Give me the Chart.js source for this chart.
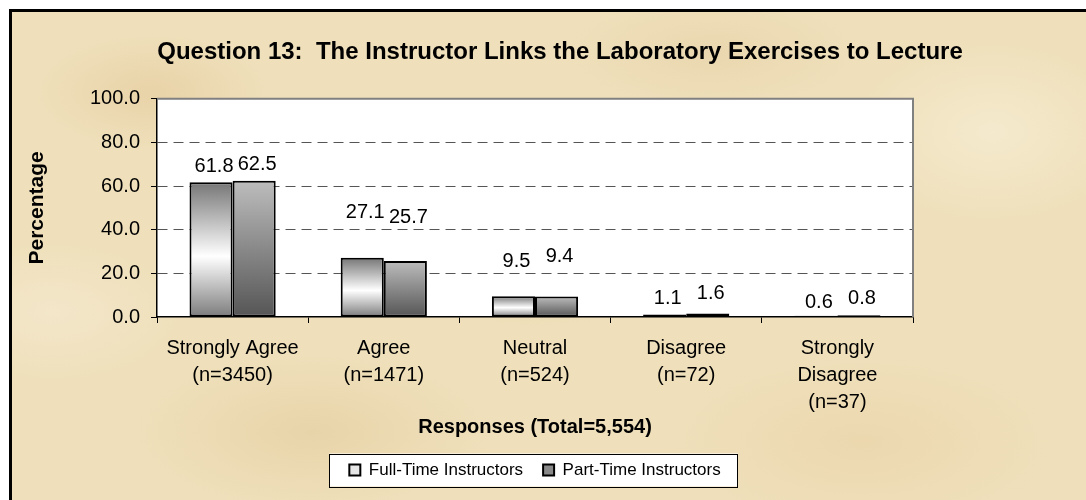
<!DOCTYPE html>
<html>
<head>
<meta charset="utf-8">
<script src="https://cdn.jsdelivr.net/npm/chart.js@4.4.1/dist/chart.umd.min.js"></script>
<style>
  html, body { margin: 0; padding: 0; background: #fff; overflow: hidden; }
  #frame {
    position: absolute; left: 9px; top: 9px; width: 1110px; height: 520px;
    border: 3px solid #000;
    background-color: #efe0bb;
    background-image:
      radial-gradient(ellipse 120px 60px at 140px 80px, rgba(230,205,160,0.7), rgba(230,205,160,0) 100%),
      radial-gradient(ellipse 160px 70px at 520px 250px, rgba(232,208,165,0.6), rgba(232,208,165,0) 100%),
      radial-gradient(ellipse 140px 90px at 980px 120px, rgba(246,236,210,0.8), rgba(246,236,210,0) 100%),
      radial-gradient(ellipse 180px 80px at 300px 420px, rgba(228,204,158,0.6), rgba(228,204,158,0) 100%),
      radial-gradient(ellipse 200px 90px at 850px 430px, rgba(235,212,170,0.7), rgba(235,212,170,0) 100%),
      radial-gradient(ellipse 130px 70px at 40px 300px, rgba(244,232,205,0.8), rgba(244,232,205,0) 100%),
      radial-gradient(ellipse 150px 60px at 700px 40px, rgba(231,209,168,0.6), rgba(231,209,168,0) 100%);
  }
  #wrap { position: absolute; left: 0; top: 0; width: 1086px; height: 500px; }
</style>
</head>
<body>
<div id="frame"></div>
<div id="wrap"><canvas id="chart"></canvas></div>
<script>
// 回答カテゴリ
const categories = [
  ['Strongly Agree', '(n=3450)'],
  ['Agree', '(n=1471)'],
  ['Neutral', '(n=524)'],
  ['Disagree', '(n=72)'],
  ['Strongly', 'Disagree', '(n=37)']
];
const fullTime = [61.8, 27.1, 9.5, 1.1, 0.6];
const partTime = [62.5, 25.7, 9.4, 1.6, 0.8];
const yTicks = [0, 20, 40, 60, 80, 100];

const FONT = "'Liberation Sans', Arial, sans-serif";
const legendFills = ['#e6e6e6', '#8a8a8a'];

// 棒ごとの縦グラデーション
function barFill(stops, flat) {
  return function (c) {
    if (c.type !== 'data') return flat;
    const y = c.chart.scales.y;
    if (!y) return flat;
    const top = y.getPixelForValue(c.raw);
    const base = y.getPixelForValue(0);
    if (!isFinite(top) || !isFinite(base) || base - top < 1) return flat;
    const g = c.chart.ctx.createLinearGradient(0, top, 0, base);
    stops.forEach(s => g.addColorStop(s[0], s[1]));
    return g;
  };
}

// プロット領域の背景と凡例の枠
const backdrop = {
  id: 'backdrop',
  beforeDraw(chart) {
    const {ctx, chartArea: a} = chart;
    ctx.save();
    ctx.fillStyle = '#fff';
    ctx.fillRect(a.left, a.top, a.right - a.left, a.bottom - a.top);
    const boxes = chart.legend && chart.legend.legendHitBoxes;
    if (boxes && boxes.length) {
      const first = boxes[0], last = boxes[boxes.length - 1];
      const l = first.left - 20, r = last.left + last.width + 17;
      const t = first.top - 8, b = first.top + first.height + 8;
      ctx.fillStyle = '#fff';
      ctx.fillRect(l, t, r - l, b - t);
      ctx.strokeStyle = '#000';
      ctx.lineWidth = 1;
      ctx.strokeRect(Math.round(l) + 0.5, Math.round(t) + 0.5, Math.round(r - l), Math.round(b - t));
    }
    ctx.restore();
  },
  beforeDatasetsDraw(chart) {
    const {ctx, chartArea: a} = chart;
    ctx.save();
    ctx.strokeStyle = '#808080';
    ctx.lineWidth = 2;
    ctx.beginPath();
    ctx.moveTo(a.left, a.top);
    ctx.lineTo(a.right, a.top);
    ctx.lineTo(a.right, a.bottom);
    ctx.stroke();
    ctx.restore();
  }
};

// 棒の上の数値ラベル
const valueLabels = {
  id: 'valueLabels',
  afterDatasetsDraw(chart, args, opts) {
    const ctx = chart.ctx;
    ctx.save();
    ctx.font = '20px ' + FONT;
    ctx.fillStyle = '#000';
    ctx.textAlign = 'center';
    ctx.textBaseline = 'middle';
    chart.data.datasets.forEach((ds, di) => {
      const meta = chart.getDatasetMeta(di);
      meta.data.forEach((bar, i) => {
        const lift = opts.lift[di][i];
        ctx.fillText(ds.data[i].toFixed(1), bar.x + 3, bar.y - lift);
      });
    });
    ctx.restore();
  }
};

const ctx = document.getElementById('chart').getContext('2d');
new Chart(ctx, {
  type: 'bar',
  data: {
    labels: categories,
    datasets: [
      {
        label: 'Full-Time Instructors',
        data: fullTime,
        backgroundColor: barFill([[0, '#767676'], [0.55, '#ffffff'], [1, '#7c7c7c']], '#e0e0e0'),
        borderColor: '#000',
        borderWidth: 2,
        borderSkipped: false
      },
      {
        label: 'Part-Time Instructors',
        data: partTime,
        backgroundColor: barFill([[0, '#bdbdbd'], [1, '#555555']], '#8c8c8c'),
        borderColor: '#000',
        borderWidth: 2,
        borderSkipped: false
      }
    ]
  },
  options: {
    responsive: true,
    maintainAspectRatio: false,
    animation: false,
    layout: { padding: { top: 10, left: 10, right: -24, bottom: 11.5 } },
    datasets: { bar: { categoryPercentage: 0.57, barPercentage: 1 } },
    scales: {
      x: {
        type: 'category',
        grid: { display: true, drawOnChartArea: false, drawTicks: true, tickLength: 6, color: '#000', lineWidth: 1 },
        border: { display: true, color: '#000', width: 1.5 },
        ticks: { color: '#000', font: { family: FONT, size: 20, lineHeight: 1.35 }, padding: 12, maxRotation: 0, autoSkip: false },
        title: { display: true, text: 'Responses (Total=5,554)', color: '#000', font: { family: FONT, size: 20, weight: 'bold', lineHeight: 1.2 }, padding: { top: 0, bottom: 2.5 } },
        afterFit(s) { s.height = 124.5; }
      },
      y: {
        min: 0,
        max: 100,
        afterBuildTicks(s) { s.ticks = yTicks.map(v => ({ value: v })); },
        grid: {
          color: c => (c.tick && (c.tick.value === 0 || c.tick.value === 100)) ? 'rgba(0,0,0,0)' : '#555',
          tickBorderDash: [],
          tickColor: '#000',
          tickLength: 6,
          lineWidth: 1
        },
        border: { display: true, color: '#000', width: 1.5, dash: [10, 6] },
        ticks: { color: '#000', font: { family: FONT, size: 20 }, padding: 11, callback: v => Number(v).toFixed(1) },
        title: { display: true, text: 'Percentage', color: '#000', font: { family: FONT, size: 21, weight: 'bold', lineHeight: 1.2 }, padding: { top: 14.4, bottom: 0 } },
        afterFit(s) { s.width = 147; }
      },
      yR: {
        type: 'linear',
        position: 'right',
        display: true,
        grid: { display: false },
        ticks: { display: false },
        border: { display: false },
        afterFit(s) { s.width = 197; }
      }
    },
    plugins: {
      title: {
        display: true,
        text: 'Question 13:  The Instructor Links the Laboratory Exercises to Lecture',
        color: '#000',
        font: { family: FONT, size: 24, weight: 'bold', lineHeight: 1.2 },
        padding: { top: 28, bottom: 32 }
      },
      legend: {
        position: 'bottom',
        fullSize: false,
        labels: {
          color: '#000',
          font: { family: FONT, size: 17 },
          boxWidth: 11,
          boxHeight: 11,
          padding: 20,
          generateLabels(chart) {
            const items = Chart.defaults.plugins.legend.labels.generateLabels(chart);
            items.forEach((it, i) => {
              it.fillStyle = legendFills[i];
              it.strokeStyle = '#000';
              it.lineWidth = 2;
            });
            return items;
          }
        }
      },
      tooltip: { enabled: false },
      valueLabels: {
        lift: [[16, 45, 35, 16, 13], [16, 43, 40, 20, 17]]
      }
    }
  },
  plugins: [backdrop, valueLabels]
});
</script>
</body>
</html>
